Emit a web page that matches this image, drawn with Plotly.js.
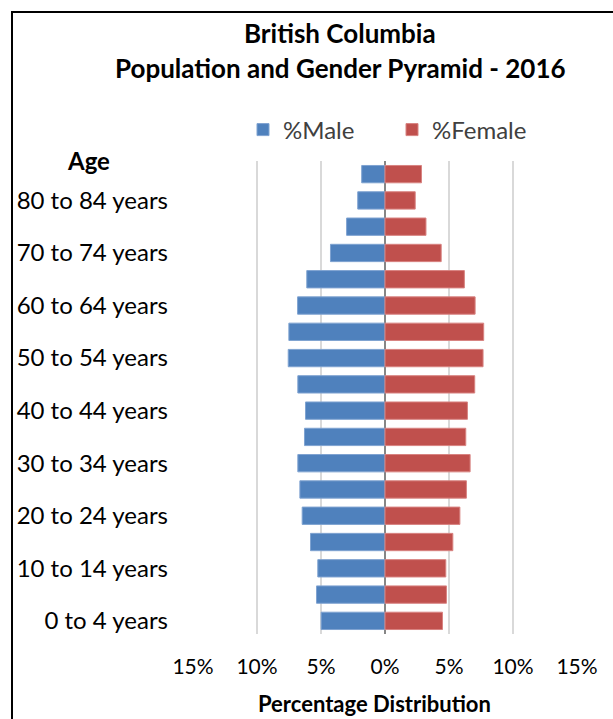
<!DOCTYPE html>
<html>
<head>
<meta charset="utf-8">
<script src="https://cdn.plot.ly/plotly-3.0.1.min.js"></script>
<style>
  html, body { margin: 0; padding: 0; background: #fff; overflow: hidden; }
  #wrap { position: relative; width: 613px; height: 719px; }
  #chart { position: absolute; left: 0; top: 0; width: 613px; height: 719px; }
  #frame { position: absolute; left: 11px; top: 11px; width: 700px; height: 800px;
           border: 2px solid #000; box-sizing: border-box; pointer-events: none; }
</style>
</head>
<body>
<div id="wrap">
  <div id="chart"></div>
  <div id="frame"></div>
</div>
<script>
// Age groups, bottom to top
const ageGroups = [
  '0 to 4 years', '5 to 9 years', '10 to 14 years', '15 to 19 years',
  '20 to 24 years', '25 to 29 years', '30 to 34 years', '35 to 39 years',
  '40 to 44 years', '45 to 49 years', '50 to 54 years', '55 to 59 years',
  '60 to 64 years', '65 to 69 years', '70 to 74 years', '75 to 79 years',
  '80 to 84 years', '85 years and over'
];
// Percent of population
const malePct = [4.99, 5.35, 5.25, 5.82, 6.47, 6.65, 6.81, 6.29, 6.21, 6.81,
                 7.56, 7.51, 6.83, 6.11, 4.26, 3.00, 2.13, 1.82];
const femalePct = [4.49, 4.80, 4.75, 5.30, 5.85, 6.36, 6.65, 6.31, 6.44, 7.01,
                   7.66, 7.71, 7.04, 6.20, 4.39, 3.20, 2.36, 2.85];
// Labelled age ticks
const ageTickLabels = ['0 to 4 years', '10 to 14 years', '20 to 24 years',
  '30 to 34 years', '40 to 44 years', '50 to 54 years', '60 to 64 years',
  '70 to 74 years', '80 to 84 years'];
// X axis ticks
const xTickVals = [-15, -10, -5, 0, 5, 10, 15];
const xTickText = ['15%', '10%', '5%', '0%', '5%', '10%', '15%'];
// Titles
const titleLine1 = 'British Columbia';
const titleLine2 = 'Population and Gender Pyramid - 2016';

const FONT = 'Lato, "Open Sans", sans-serif';

const traces = [
  {
    type: 'bar', orientation: 'h', name: '%Male',
    y: ageGroups, x: malePct.map(v => -v),
    marker: { color: '#4f81bd', line: { color: '#7fa3d1', width: 1 } },
    hoverinfo: 'skip'
  },
  {
    type: 'bar', orientation: 'h', name: '%Female',
    y: ageGroups, x: femalePct,
    marker: { color: '#c0504d', line: { color: '#d88381', width: 1 } },
    hoverinfo: 'skip'
  }
];

const plotTop = 161, plotBottom = 634, plotLeft = 193, plotRight = 577;
const ph = plotBottom - plotTop, pw = plotRight - plotLeft;
const px = x => (x - plotLeft) / pw;
const py = y => (plotBottom - y) / ph;

const layout = {
  width: 613, height: 719,
  margin: { l: plotLeft, r: 613 - plotRight, t: plotTop, b: 719 - plotBottom, pad: 0 },
  paper_bgcolor: '#ffffff', plot_bgcolor: '#ffffff',
  font: { family: FONT, color: '#000' },
  barmode: 'overlay',
  bargap: 0.34,
  showlegend: true,
  legend: {
    orientation: 'h',
    x: px(243), xanchor: 'left',
    y: py(130), yanchor: 'middle',
    font: { family: FONT, size: 24, color: '#404040' },
    entrywidth: 104, entrywidthmode: 'pixels',
    itemwidth: 30,
    traceorder: 'normal',
    bgcolor: 'rgba(0,0,0,0)'
  },
  xaxis: {
    range: [-15, 15],
    tickmode: 'array', tickvals: xTickVals, ticktext: xTickText,
    tickfont: { family: FONT, size: 21, color: '#000' },
    showgrid: true, gridcolor: '#d9d9d9', gridwidth: 1.5,
    zeroline: true, zerolinecolor: '#868686', zerolinewidth: 2,
    showline: false, ticks: '', ticklabelstandoff: 18,
    fixedrange: true
  },
  yaxis: {
    type: 'category',
    categoryorder: 'array', categoryarray: ageGroups,
    tickmode: 'array', tickvals: ageTickLabels, ticktext: ageTickLabels,
    tickfont: { family: FONT, size: 24, color: '#000' },
    showgrid: false, zeroline: false, showline: false, ticks: '',
    ticklabelstandoff: 24,
    fixedrange: true
  },
  annotations: [
    {
      text: '<b>' + titleLine1 + '</b>', xref: 'paper', yref: 'paper',
      x: px(340), xanchor: 'center', y: py(33), yanchor: 'middle',
      showarrow: false, font: { family: FONT, size: 26, color: '#000' }
    },
    {
      text: '<b>' + titleLine2 + '</b>', xref: 'paper', yref: 'paper',
      x: px(340), xanchor: 'center', y: py(68), yanchor: 'middle',
      showarrow: false, font: { family: FONT, size: 26, color: '#000' }
    },
    {
      text: '<b>Age</b>', xref: 'paper', yref: 'paper',
      x: px(88), xanchor: 'center', y: py(160), yanchor: 'middle',
      showarrow: false, font: { family: FONT, size: 24, color: '#000' }
    },
    {
      text: '<b>Percentage Distribution</b>', xref: 'paper', yref: 'paper',
      x: px(374), xanchor: 'center', y: py(703), yanchor: 'middle',
      showarrow: false, font: { family: FONT, size: 22, color: '#000' }
    }
  ]
};

Plotly.newPlot('chart', traces, layout, { displayModeBar: false, staticPlot: true });
</script>
</body>
</html>
